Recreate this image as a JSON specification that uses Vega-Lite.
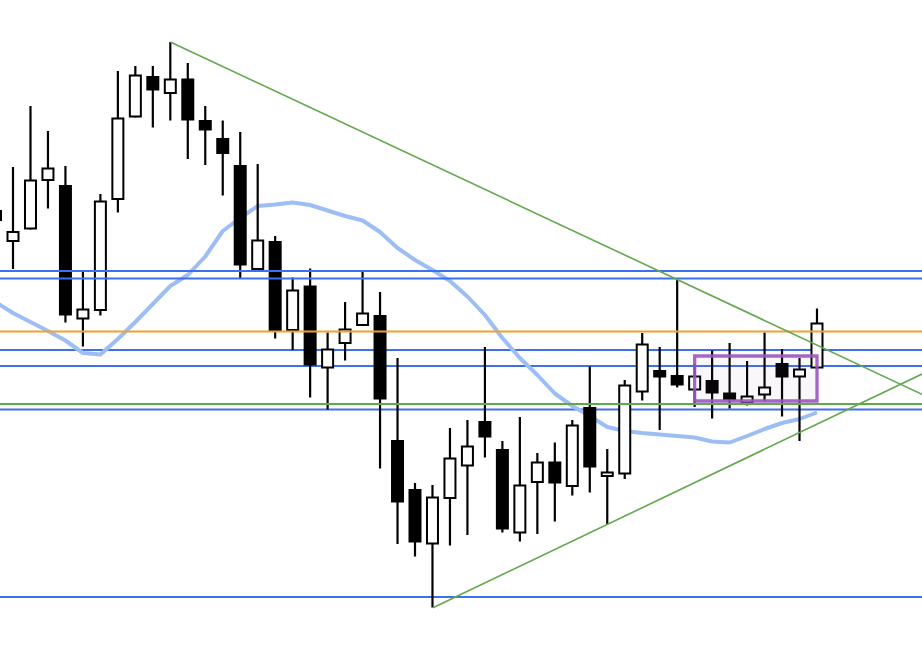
{
  "$schema": "https://vega.github.io/schema/vega-lite/v6.json",
  "width": 922,
  "height": 646,
  "autosize": {"type": "fit", "contains": "padding"},
  "padding": 0,
  "background": "white",
  "config": {"view": {"stroke": null}},
  "datasets": {
    "candles": [
      {"i":0,"open":155.78,"high":155.84,"low":155.54,"close":155.60,"ma":153.96},
      {"i":1,"open":155.18,"high":156.66,"low":154.62,"close":155.36,"ma":153.74},
      {"i":2,"open":155.43,"high":157.88,"low":155.41,"close":156.39,"ma":153.56},
      {"i":3,"open":156.40,"high":157.38,"low":155.83,"close":156.63,"ma":153.38},
      {"i":4,"open":156.28,"high":156.68,"low":153.55,"close":153.71,"ma":153.19},
      {"i":5,"open":153.63,"high":154.56,"low":153.07,"close":153.81,"ma":152.94},
      {"i":6,"open":153.80,"high":156.12,"low":153.69,"close":155.97,"ma":152.91},
      {"i":7,"open":156.02,"high":158.58,"low":155.75,"close":157.63,"ma":153.22},
      {"i":8,"open":157.67,"high":158.68,"low":157.65,"close":158.49,"ma":153.56},
      {"i":9,"open":158.46,"high":158.68,"low":157.45,"close":158.21,"ma":153.92},
      {"i":10,"open":158.14,"high":159.16,"low":157.59,"close":158.41,"ma":154.28},
      {"i":11,"open":158.41,"high":158.74,"low":156.82,"close":157.61,"ma":154.50},
      {"i":12,"open":157.58,"high":157.88,"low":156.70,"close":157.41,"ma":154.87},
      {"i":13,"open":157.22,"high":157.59,"low":156.09,"close":156.94,"ma":155.38},
      {"i":14,"open":156.68,"high":157.36,"low":154.43,"close":154.71,"ma":155.64},
      {"i":15,"open":154.62,"high":156.72,"low":154.60,"close":155.19,"ma":155.88},
      {"i":16,"open":155.16,"high":155.28,"low":153.23,"close":153.40,"ma":155.91},
      {"i":17,"open":153.40,"high":154.45,"low":153.00,"close":154.19,"ma":155.95},
      {"i":18,"open":154.27,"high":154.63,"low":152.05,"close":152.71,"ma":155.90},
      {"i":19,"open":152.65,"high":153.35,"low":151.81,"close":153.01,"ma":155.79},
      {"i":20,"open":153.14,"high":153.96,"low":152.79,"close":153.41,"ma":155.68},
      {"i":21,"open":153.50,"high":154.57,"low":153.48,"close":153.73,"ma":155.59},
      {"i":22,"open":153.68,"high":154.16,"low":150.63,"close":152.03,"ma":155.36},
      {"i":23,"open":151.18,"high":152.84,"low":149.12,"close":149.97,"ma":155.04},
      {"i":24,"open":150.20,"high":150.34,"low":148.87,"close":149.17,"ma":154.80},
      {"i":25,"open":149.13,"high":150.30,"low":147.85,"close":150.05,"ma":154.60},
      {"i":26,"open":150.04,"high":151.44,"low":149.09,"close":150.83,"ma":154.38},
      {"i":27,"open":150.69,"high":151.60,"low":149.30,"close":151.07,"ma":154.07},
      {"i":28,"open":151.56,"high":153.06,"low":150.85,"close":151.27,"ma":153.70},
      {"i":29,"open":151.00,"high":151.18,"low":149.35,"close":149.43,"ma":153.24},
      {"i":30,"open":149.35,"high":151.66,"low":149.17,"close":150.29,"ma":152.84},
      {"i":31,"open":150.36,"high":150.94,"low":149.32,"close":150.75,"ma":152.50},
      {"i":32,"open":150.75,"high":151.15,"low":149.57,"close":150.35,"ma":152.13},
      {"i":33,"open":150.28,"high":151.60,"low":150.09,"close":151.49,"ma":151.88},
      {"i":34,"open":151.84,"high":152.67,"low":150.15,"close":150.67,"ma":151.68},
      {"i":35,"open":150.48,"high":151.02,"low":149.52,"close":150.55,"ma":151.46},
      {"i":36,"open":150.53,"high":152.40,"low":150.42,"close":152.29,"ma":151.38},
      {"i":37,"open":152.17,"high":153.34,"low":151.99,"close":153.11,"ma":151.34},
      {"i":38,"open":152.58,"high":153.06,"low":151.40,"close":152.47,"ma":151.31},
      {"i":39,"open":152.48,"high":154.40,"low":152.25,"close":152.31,"ma":151.28},
      {"i":40,"open":152.21,"high":152.72,"low":151.86,"close":152.47,"ma":151.25},
      {"i":41,"open":152.38,"high":152.99,"low":151.63,"close":152.15,"ma":151.17},
      {"i":42,"open":152.13,"high":153.14,"low":151.83,"close":152.02,"ma":151.15},
      {"i":43,"open":151.95,"high":152.78,"low":151.89,"close":152.07,"ma":151.28},
      {"i":44,"open":152.11,"high":153.35,"low":151.97,"close":152.25,"ma":151.42},
      {"i":45,"open":152.72,"high":153.02,"low":151.67,"close":152.47,"ma":151.54},
      {"i":46,"open":152.47,"high":152.84,"low":151.18,"close":152.61,"ma":151.62},
      {"i":47,"open":152.65,"high":153.83,"low":152.63,"close":153.53,"ma":151.75}
    ],
    "levels": [
      {"price":154.58,"kind":"upper zone"},
      {"price":154.43,"kind":"upper zone"},
      {"price":153.37,"kind":"key"},
      {"price":153.00,"kind":"level"},
      {"price":152.68,"kind":"level"},
      {"price":151.92,"kind":"neckline"},
      {"price":151.81,"kind":"level"},
      {"price":148.06,"kind":"level"}
    ],
    "trends": [
      {"line":"upper","i":10,"price":159.16},
      {"line":"upper","i":53.008,"price":152.114},
      {"line":"lower","i":25.03,"price":147.846},
      {"line":"lower","i":53.008,"price":152.52}
    ],
    "box": [
      {"i1":40,"i2":47,"top":152.88,"bottom":151.98}
    ]
  },
  "encoding": {
    "x": {"field":"i","type":"quantitative","axis":null,"scale":{"domain":[0.256,53.008],"nice":false,"zero":false,"padding":0}}
  },
  "resolve": {"scale": {"color": "independent"}},
  "layer": [
    {
      "data": {"name":"levels"},
      "transform": [{"filter":"datum.kind === 'level'"}],
      "mark": {"type":"rule","strokeWidth":2,"clip":true},
      "encoding": {
        "x": null,
        "y": {"field":"price","type":"quantitative","axis":null,"scale":{"domain":[147.08,160],"nice":false,"zero":false,"padding":0}},
        "color": {"field":"kind","type":"nominal","legend":null,"scale":{"domain":["upper zone","level","key","neckline"],"range":["#3f6ef0","#3f6ef0","#f0a030","#5fa84e"]}}
      }
    },
    {
      "data": {"name":"candles"},
      "mark": {"type":"line","color":"#9cbef5","strokeWidth":4,"clip":true,"strokeJoin":"round"},
      "encoding": {
        "y": {"field":"ma","type":"quantitative","axis":null,"scale":{"domain":[147.08,160],"nice":false,"zero":false,"padding":0}}
      }
    },
    {
      "data": {"name":"candles"},
      "mark": {"type":"rule","color":"black","strokeWidth":2.2,"clip":true},
      "encoding": {
        "y": {"field":"low","type":"quantitative","axis":null,"scale":{"domain":[147.08,160],"nice":false,"zero":false,"padding":0}},
        "y2": {"field":"high"}
      }
    },
    {
      "data": {"name":"candles"},
      "mark": {"type":"bar","orient":"vertical","size":11,"stroke":"black","strokeWidth":2,"clip":true},
      "encoding": {
        "y": {"field":"open","type":"quantitative","axis":null,"scale":{"domain":[147.08,160],"nice":false,"zero":false,"padding":0}},
        "y2": {"field":"close"},
        "fill": {"condition":{"test":"datum.close < datum.open","value":"black"},"value":"white"}
      }
    },
    {
      "data": {"name":"levels"},
      "transform": [{"filter":"datum.kind !== 'level'"}],
      "mark": {"type":"rule","strokeWidth":2,"clip":true},
      "encoding": {
        "x": null,
        "y": {"field":"price","type":"quantitative","axis":null,"scale":{"domain":[147.08,160],"nice":false,"zero":false,"padding":0}},
        "color": {"field":"kind","type":"nominal","legend":null,"scale":{"domain":["upper zone","level","key","neckline"],"range":["#3f6ef0","#3f6ef0","#f0a030","#5fa84e"]}}
      }
    },
    {
      "data": {"name":"trends"},
      "mark": {"type":"line","color":"#62a84f","strokeWidth":1.6,"clip":true},
      "encoding": {
        "y": {"field":"price","type":"quantitative","axis":null,"scale":{"domain":[147.08,160],"nice":false,"zero":false,"padding":0}},
        "detail": {"field":"line","type":"nominal"}
      }
    },
    {
      "data": {"name":"box"},
      "mark": {"type":"rect","fill":"#9b59b6","fillOpacity":0.05,"stroke":"#9b55c0","strokeOpacity":0.9,"strokeWidth":3.3,"clip":true},
      "encoding": {
        "x": {"field":"i1","type":"quantitative","axis":null,"scale":{"domain":[0.256,53.008],"nice":false,"zero":false,"padding":0}},
        "x2": {"field":"i2"},
        "y": {"field":"top","type":"quantitative","axis":null,"scale":{"domain":[147.08,160],"nice":false,"zero":false,"padding":0}},
        "y2": {"field":"bottom"}
      }
    }
  ]
}
